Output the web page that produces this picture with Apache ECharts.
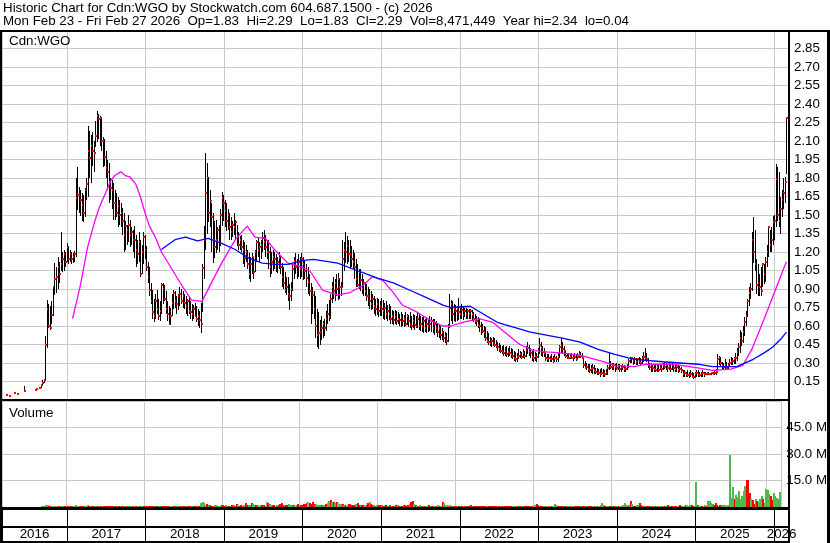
<!DOCTYPE html>
<html><head><meta charset="utf-8">
<script src="https://cdn.jsdelivr.net/npm/echarts@6/dist/echarts.min.js"></script>
<style>html,body{margin:0;padding:0;background:#fff}#c{width:830px;height:543px}</style>
</head><body><div id="c"></div>
<script>
// Weekly bars, first week ending Fri 2016-03-25, last week ending Fri 2026-02-27
const firstWeek = [2016, 2, 25];
const high = [
0.04,null,0.04,null,null,0.06,null,0.05,null,null,
null,null,0.11,null,null,null,null,null,null,0.08,
0.09,null,0.10,0.13,0.16,0.17,0.52,0.81,0.78,0.76,
0.80,0.92,1.11,1.08,1.16,1.12,1.36,1.20,1.22,1.20,
1.27,1.25,1.22,1.20,1.19,1.21,1.80,1.89,1.73,1.70,
1.68,1.66,1.72,1.80,2.22,2.18,2.15,2.17,2.10,2.26,
2.34,2.32,2.30,2.28,2.13,2.12,2.02,1.95,1.92,1.80,
1.78,1.76,1.70,1.68,1.65,1.62,1.60,1.56,1.52,1.45,
1.42,1.50,1.46,1.40,1.38,1.41,1.34,1.30,1.36,1.30,
1.26,1.36,1.34,1.25,1.12,1.08,0.95,0.89,0.82,0.86,
0.89,0.82,0.80,0.95,0.95,0.93,0.88,0.80,0.76,0.75,
0.86,0.89,0.88,0.84,0.86,0.92,0.90,0.88,0.86,0.84,
0.82,0.84,0.80,0.78,0.77,0.79,0.76,0.74,0.72,0.79,
1.10,1.41,2.00,1.92,1.81,1.70,1.60,1.52,1.45,1.46,
1.40,1.42,1.55,1.69,1.66,1.62,1.60,1.55,1.52,1.48,
1.45,1.52,1.46,1.42,1.36,1.33,1.34,1.30,1.28,1.26,
1.22,1.19,1.16,1.19,1.15,1.22,1.30,1.32,1.28,1.30,
1.36,1.38,1.34,1.30,1.30,1.24,1.20,1.22,1.20,1.18,
1.16,1.20,1.17,1.11,1.08,1.04,1.00,1.00,0.94,0.96,
1.10,1.16,1.19,1.14,1.18,1.16,1.19,1.16,1.13,1.10,
1.08,1.02,0.95,0.92,0.88,0.84,0.74,0.71,0.65,0.68,
0.64,0.66,0.72,0.78,0.81,0.86,0.96,1.00,0.98,1.02,
1.03,0.98,0.96,1.30,1.28,1.36,1.33,1.30,1.30,1.25,
1.22,1.19,1.14,1.10,1.06,1.06,1.02,0.98,0.96,0.94,
0.92,0.90,0.88,0.86,0.84,0.82,0.83,0.82,0.80,0.83,
0.81,0.79,0.80,0.77,0.78,0.76,0.73,0.72,0.73,0.72,
0.71,0.70,0.71,0.70,0.69,0.71,0.70,0.69,0.71,0.68,
0.70,0.69,0.68,0.71,0.70,0.68,0.67,0.68,0.66,0.67,
0.65,0.68,0.67,0.66,0.66,0.64,0.62,0.61,0.60,0.58,
0.56,0.55,0.54,0.62,0.86,0.81,0.80,0.78,0.77,0.76,
0.83,0.76,0.78,0.76,0.75,0.75,0.74,0.74,0.74,0.73,
0.71,0.70,0.68,0.67,0.66,0.63,0.62,0.60,0.59,0.56,
0.54,0.51,0.50,0.51,0.50,0.49,0.47,0.46,0.45,0.44,
0.45,0.43,0.44,0.42,0.44,0.42,0.41,0.40,0.39,0.38,
0.41,0.40,0.39,0.41,0.40,0.44,0.47,0.45,0.42,0.40,
0.41,0.39,0.38,0.42,0.50,0.47,0.44,0.42,0.38,0.37,
0.37,0.36,0.37,0.36,0.37,0.36,0.38,0.45,0.50,0.47,
0.44,0.40,0.38,0.38,0.37,0.38,0.37,0.38,0.37,0.38,
0.40,0.39,0.38,0.33,0.32,0.30,0.29,0.29,0.28,0.29,
0.28,0.26,0.26,0.25,0.25,0.26,0.25,0.24,0.25,0.28,
0.38,0.32,0.30,0.30,0.29,0.30,0.29,0.29,0.28,0.29,
0.28,0.27,0.29,0.33,0.35,0.35,0.34,0.35,0.34,0.34,
0.35,0.34,0.36,0.39,0.42,0.38,0.34,0.30,0.30,0.29,
0.28,0.28,0.29,0.28,0.29,0.28,0.30,0.31,0.30,0.29,
0.30,0.29,0.30,0.29,0.28,0.29,0.28,0.28,0.27,0.24,
0.24,0.23,0.24,0.23,0.24,0.23,0.22,0.23,0.24,0.24,
0.23,0.23,0.24,0.23,0.23,0.23,0.23,0.22,0.23,0.23,
0.24,0.25,0.37,0.36,0.35,0.31,0.30,0.33,0.31,0.30,
0.33,0.35,0.34,0.35,0.38,0.42,0.46,0.57,0.55,0.60,
0.67,0.72,0.82,0.92,0.95,1.36,1.48,1.38,1.14,1.10,
1.02,1.08,1.11,1.10,1.16,1.26,1.41,1.38,1.40,1.49,
1.50,1.91,1.89,1.85,1.65,1.70,1.80,1.81,2.29];
const low = [
0.03,null,0.03,null,null,0.05,null,0.04,null,null,
null,null,0.07,null,null,null,null,null,null,0.08,
0.08,null,0.09,0.10,0.12,0.14,0.16,0.42,0.58,0.57,
0.62,0.68,0.85,0.87,0.90,0.95,1.05,1.04,1.05,1.08,
1.12,1.10,1.12,1.10,1.11,1.12,1.16,1.54,1.52,1.49,
1.45,1.44,1.48,1.62,1.65,1.80,1.76,1.90,1.85,2.05,
2.09,2.12,2.06,2.02,1.89,1.90,1.80,1.70,1.60,1.62,
1.55,1.46,1.46,1.48,1.40,1.42,1.40,1.34,1.20,1.22,
1.26,1.28,1.24,1.26,1.20,1.15,1.08,1.10,1.12,1.00,
1.02,1.10,1.14,1.05,0.95,0.84,0.78,0.66,0.63,0.66,
0.70,0.65,0.64,0.70,0.78,0.80,0.70,0.64,0.61,0.61,
0.68,0.74,0.75,0.70,0.73,0.76,0.78,0.75,0.74,0.70,
0.68,0.70,0.66,0.64,0.66,0.67,0.63,0.60,0.58,0.54,
0.71,0.98,1.22,1.35,1.44,1.40,1.20,1.11,1.15,1.19,
1.22,1.20,1.25,1.41,1.45,1.40,1.37,1.38,1.30,1.30,
1.32,1.34,1.30,1.25,1.22,1.22,1.20,1.10,1.08,1.12,
1.06,0.98,0.96,1.02,0.98,1.04,1.12,1.16,1.12,1.14,
1.20,1.22,1.16,1.14,1.06,1.00,1.02,1.05,1.06,1.04,
1.03,1.06,1.02,0.92,0.90,0.87,0.85,0.80,0.73,0.80,
0.88,0.98,1.02,0.98,1.00,0.98,1.00,0.97,0.98,0.92,
0.86,0.84,0.62,0.70,0.66,0.50,0.43,0.41,0.45,0.49,
0.50,0.52,0.56,0.62,0.64,0.66,0.79,0.82,0.80,0.84,
0.81,0.82,0.84,0.92,1.05,1.11,1.10,1.12,1.06,1.08,
1.06,0.98,0.92,0.92,0.90,0.88,0.86,0.84,0.84,0.80,
0.76,0.74,0.73,0.74,0.70,0.68,0.69,0.67,0.68,0.68,
0.66,0.65,0.66,0.64,0.65,0.62,0.62,0.61,0.62,0.61,
0.62,0.60,0.59,0.60,0.59,0.60,0.61,0.59,0.58,0.57,
0.58,0.57,0.58,0.58,0.57,0.56,0.55,0.54,0.55,0.54,
0.55,0.56,0.55,0.54,0.53,0.54,0.51,0.50,0.49,0.49,
0.47,0.46,0.45,0.47,0.58,0.64,0.62,0.64,0.63,0.64,
0.65,0.66,0.66,0.65,0.67,0.66,0.66,0.66,0.66,0.64,
0.63,0.62,0.60,0.58,0.55,0.53,0.54,0.50,0.48,0.46,
0.45,0.44,0.43,0.44,0.43,0.42,0.40,0.39,0.38,0.37,
0.36,0.36,0.35,0.35,0.36,0.34,0.33,0.32,0.31,0.31,
0.33,0.34,0.33,0.34,0.33,0.35,0.37,0.36,0.34,0.32,
0.31,0.32,0.31,0.34,0.37,0.36,0.35,0.35,0.32,0.31,
0.31,0.31,0.31,0.30,0.31,0.31,0.31,0.34,0.38,0.37,
0.36,0.34,0.33,0.33,0.33,0.33,0.32,0.33,0.32,0.33,
0.34,0.34,0.33,0.26,0.25,0.24,0.23,0.22,0.22,0.21,
0.21,0.21,0.20,0.20,0.19,0.20,0.19,0.19,0.20,0.20,
0.24,0.25,0.24,0.24,0.23,0.24,0.24,0.23,0.23,0.24,
0.23,0.23,0.24,0.26,0.30,0.30,0.28,0.29,0.28,0.28,
0.29,0.28,0.29,0.31,0.32,0.31,0.26,0.24,0.23,0.23,
0.23,0.23,0.23,0.23,0.24,0.23,0.24,0.25,0.24,0.23,
0.24,0.23,0.24,0.23,0.23,0.23,0.22,0.23,0.22,0.19,
0.19,0.19,0.19,0.18,0.19,0.18,0.17,0.18,0.19,0.19,
0.19,0.19,0.19,0.19,0.20,0.20,0.20,0.20,0.20,0.20,
0.20,0.20,0.24,0.28,0.27,0.25,0.25,0.25,0.24,0.25,
0.27,0.28,0.28,0.29,0.29,0.32,0.36,0.38,0.44,0.46,
0.52,0.60,0.67,0.76,0.82,0.88,1.11,1.05,0.86,0.84,
0.84,0.84,0.92,0.94,0.96,1.08,1.16,1.20,1.20,1.26,
1.30,1.40,1.45,1.40,1.35,1.48,1.55,1.60,1.83];
const close = [
0.04,null,0.03,null,null,0.06,null,0.05,null,null,
null,null,0.07,null,null,null,null,null,null,0.08,
0.09,null,0.10,0.12,0.14,0.16,0.45,0.74,0.60,0.58,
0.69,0.92,0.98,1.00,1.08,1.02,1.10,1.14,1.18,1.12,
1.24,1.14,1.18,1.14,1.16,1.18,1.64,1.66,1.66,1.62,
1.58,1.52,1.70,1.75,2.02,1.96,2.06,2.02,2.00,2.14,
2.30,2.28,2.29,2.10,2.10,1.97,1.88,1.85,1.77,1.72,
1.70,1.60,1.60,1.52,1.57,1.50,1.52,1.45,1.34,1.41,
1.38,1.42,1.34,1.36,1.30,1.30,1.22,1.18,1.28,1.02,
1.20,1.32,1.22,1.08,1.00,0.89,0.80,0.71,0.68,0.80,
0.74,0.68,0.72,0.93,0.90,0.82,0.74,0.70,0.62,0.68,
0.79,0.87,0.80,0.78,0.84,0.86,0.80,0.84,0.79,0.76,
0.80,0.72,0.71,0.70,0.74,0.68,0.66,0.68,0.65,0.62,
1.07,1.30,1.68,1.80,1.52,1.61,1.48,1.30,1.24,1.30,
1.38,1.28,1.50,1.64,1.60,1.53,1.45,1.50,1.40,1.36,
1.42,1.40,1.44,1.33,1.26,1.30,1.24,1.22,1.15,1.20,
1.10,1.02,1.10,1.16,1.04,1.20,1.28,1.22,1.24,1.26,
1.31,1.28,1.24,1.20,1.20,1.08,1.12,1.16,1.14,1.10,
1.12,1.15,1.08,1.00,0.95,0.89,0.92,0.86,0.84,0.90,
1.06,1.13,1.08,1.10,1.12,1.06,1.14,1.10,1.05,0.99,
0.96,0.88,0.88,0.85,0.74,0.60,0.53,0.54,0.55,0.58,
0.62,0.58,0.66,0.70,0.67,0.82,0.92,0.88,0.95,0.90,
0.98,0.92,0.92,1.14,1.22,1.20,1.25,1.18,1.18,1.14,
1.12,1.08,0.98,0.93,1.04,0.97,0.90,0.95,0.88,0.84,
0.84,0.80,0.78,0.82,0.76,0.74,0.78,0.72,0.76,0.74,
0.72,0.75,0.70,0.72,0.70,0.66,0.68,0.65,0.67,0.64,
0.66,0.65,0.67,0.64,0.66,0.62,0.68,0.64,0.62,0.60,
0.64,0.61,0.60,0.66,0.60,0.62,0.60,0.64,0.58,0.62,
0.60,0.62,0.64,0.58,0.62,0.58,0.55,0.58,0.53,0.55,
0.50,0.52,0.48,0.60,0.75,0.78,0.70,0.74,0.72,0.74,
0.71,0.70,0.73,0.69,0.72,0.70,0.72,0.70,0.72,0.70,
0.66,0.64,0.64,0.61,0.60,0.58,0.56,0.55,0.50,0.48,
0.47,0.46,0.48,0.46,0.45,0.44,0.43,0.41,0.40,0.40,
0.38,0.40,0.37,0.39,0.38,0.37,0.36,0.34,0.33,0.35,
0.36,0.37,0.35,0.38,0.36,0.40,0.42,0.40,0.38,0.35,
0.34,0.36,0.35,0.40,0.45,0.42,0.39,0.38,0.34,0.33,
0.34,0.33,0.33,0.32,0.34,0.33,0.35,0.43,0.44,0.41,
0.40,0.36,0.35,0.34,0.35,0.34,0.34,0.35,0.33,0.35,
0.37,0.36,0.34,0.28,0.26,0.27,0.25,0.24,0.25,0.26,
0.24,0.23,0.22,0.22,0.21,0.22,0.21,0.21,0.22,0.26,
0.29,0.27,0.27,0.28,0.27,0.26,0.27,0.25,0.26,0.27,
0.25,0.25,0.28,0.32,0.33,0.34,0.32,0.33,0.31,0.33,
0.32,0.30,0.34,0.35,0.34,0.33,0.28,0.27,0.28,0.26,
0.25,0.24,0.27,0.24,0.26,0.25,0.28,0.27,0.28,0.26,
0.27,0.25,0.28,0.26,0.25,0.27,0.24,0.25,0.24,0.21,
0.22,0.21,0.20,0.20,0.21,0.19,0.19,0.21,0.22,0.21,
0.20,0.21,0.22,0.21,0.21,0.22,0.21,0.21,0.22,0.21,
0.22,0.23,0.33,0.34,0.30,0.28,0.27,0.28,0.26,0.28,
0.30,0.31,0.32,0.33,0.34,0.39,0.43,0.50,0.48,0.55,
0.63,0.68,0.80,0.87,0.90,1.30,1.20,1.10,0.93,0.95,
0.92,0.88,1.10,1.02,1.12,1.20,1.40,1.26,1.30,1.44,
1.45,1.79,1.50,1.45,1.55,1.62,1.68,1.77,2.29];
// weekly volume, millions of shares
const volumeM = [
0.1,null,0.1,null,null,0.2,null,0.1,null,null,
null,null,0.2,null,null,null,null,null,null,0.1,
0.2,null,0.2,0.4,0.5,0.4,1.2,0.9,0.6,0.5,
0.4,0.7,0.8,0.5,0.6,0.4,0.7,0.4,0.5,0.3,
0.5,0.4,0.3,0.3,0.4,0.3,1.0,0.8,0.5,0.4,
0.4,0.3,0.5,0.4,0.9,0.7,0.5,0.4,0.4,0.6,
0.8,0.5,0.5,0.4,0.4,0.3,0.5,0.4,0.3,0.4,
0.3,0.4,0.3,0.3,0.4,0.3,0.5,0.4,0.3,0.4,
0.3,0.3,0.5,0.4,0.3,0.4,0.3,0.3,0.4,0.3,
0.5,0.4,0.3,0.4,0.5,0.6,0.5,0.4,0.5,0.4,
0.3,0.4,0.5,0.6,0.4,0.3,0.4,0.5,0.4,0.3,
0.4,0.3,0.4,0.3,0.3,0.4,0.3,0.4,0.3,0.3,
0.4,0.3,0.3,0.4,0.3,0.3,0.4,0.5,0.3,0.4,
2.2,2.8,2.0,1.2,1.6,0.9,1.0,0.8,0.7,0.9,
1.2,0.8,0.7,0.6,0.9,1.0,0.8,0.9,0.7,0.8,
0.6,1.2,0.9,0.8,1.5,1.0,0.8,0.9,0.7,1.2,
2.0,1.4,1.0,0.9,2.5,1.8,1.2,1.0,0.9,0.8,
1.1,1.3,0.9,0.8,3.0,2.2,1.5,1.0,0.9,1.2,
0.8,0.9,1.1,1.6,2.0,1.2,1.0,0.9,1.4,1.8,
1.1,0.9,1.0,0.8,1.2,1.6,1.0,1.2,1.0,1.5,
1.8,2.2,3.0,2.4,1.6,2.8,1.8,1.5,1.2,1.0,
1.4,1.1,0.9,1.2,1.6,2.4,3.6,4.2,3.0,2.6,
2.0,3.0,2.2,1.8,1.5,1.6,1.2,1.0,1.3,1.8,
1.5,1.0,0.9,1.2,1.6,2.2,1.4,1.0,1.2,0.9,
1.0,1.4,2.2,2.6,1.5,1.2,1.0,0.8,1.1,1.0,
0.9,1.2,0.8,1.0,0.9,0.7,0.8,1.0,0.6,0.8,
0.7,0.9,1.2,0.8,0.7,0.6,0.9,1.0,0.8,1.4,
1.8,2.6,3.6,1.5,1.0,0.8,0.7,0.9,0.6,0.8,
0.7,0.6,0.8,0.9,0.7,0.6,0.8,0.7,0.6,0.9,
0.8,0.7,3.0,2.0,1.4,1.0,0.8,0.9,0.7,0.6,
0.8,0.7,0.6,0.8,0.5,0.6,0.5,0.4,0.6,0.5,
0.7,0.9,0.6,0.5,0.4,0.6,0.5,0.4,0.5,0.6,
0.4,0.5,0.3,0.4,0.5,0.4,0.3,0.4,0.5,0.4,
0.3,0.4,0.6,0.5,0.4,0.3,0.5,0.4,0.3,0.4,
0.5,0.4,0.3,0.4,0.5,0.4,0.6,0.8,0.5,0.4,
0.3,0.4,0.5,0.6,1.2,1.6,0.9,0.6,0.5,0.4,
0.6,0.5,0.4,0.5,0.6,0.4,0.8,1.6,1.2,0.8,
0.6,0.5,0.4,0.5,0.4,0.3,0.4,0.5,0.4,0.6,
0.5,0.4,0.8,0.6,0.5,0.4,0.6,0.5,0.4,0.5,
0.3,0.4,0.5,0.4,0.3,0.4,0.5,0.4,1.0,2.0,
1.2,0.8,0.6,0.5,0.4,0.5,0.6,0.5,0.4,0.5,
0.6,0.4,0.8,1.2,2.0,1.0,0.8,1.2,3.2,1.5,
0.8,0.6,0.9,1.4,2.0,1.2,0.6,0.5,0.4,0.6,
0.5,0.4,0.5,0.6,0.4,0.5,0.8,0.6,0.5,0.7,
0.6,0.5,0.8,1.0,0.7,0.6,0.5,0.8,0.6,0.5,
0.6,1.0,0.8,0.7,0.6,1.2,1.0,0.8,0.9,1.2,
0.8,0.7,14.1,1.0,0.8,0.6,0.5,0.7,1.2,0.8,
3.4,3.4,2.2,1.5,1.2,2.4,1.0,0.8,1.0,0.9,
1.2,1.0,0.8,1.4,0.9,29.5,5.1,11.2,4.8,6.8,
5.5,8.8,4.8,6.0,8.8,12.0,15.3,15.3,7.8,4.8,
3.9,1.7,4.4,3.5,3.0,4.8,6.5,4.8,2.0,10.2,
9.5,7.3,6.5,3.9,8.2,6.0,5.0,4.5,8.47];
// moving averages: week index -> value
const pinkWeeks = [44,49,54,59,62,66,69,72,76,79,82,86,89,92,95,99,103,110,117,123,130,137,143,152,160,165,172,178,187,196,202,210,220,228,237,243,250,257,263,273,281,290,295,303,314,323,332,341,350,359,370,382,397,404,417,425,443,459,469,481,489,495,503,509,515,518];
const pinkValues = [0.66,0.92,1.24,1.46,1.57,1.68,1.77,1.82,1.85,1.82,1.81,1.75,1.65,1.52,1.41,1.32,1.20,1.06,0.92,0.81,0.80,0.97,1.11,1.30,1.41,1.32,1.31,1.22,1.11,1.08,1.04,0.89,0.85,0.87,0.93,1.00,0.97,0.87,0.77,0.71,0.65,0.60,0.60,0.63,0.66,0.63,0.54,0.45,0.40,0.39,0.38,0.36,0.31,0.28,0.27,0.29,0.29,0.26,0.24,0.25,0.28,0.41,0.65,0.84,1.03,1.12];
const blueWeeks = [103,112,119,127,134,143,152,161,170,179,187,196,204,220,235,246,257,268,279,290,295,308,326,348,370,381,393,404,417,436,459,469,485,496,503,509,514,518];
const blueValues = [1.22,1.30,1.32,1.29,1.31,1.27,1.22,1.15,1.11,1.10,1.10,1.13,1.14,1.11,1.04,0.99,0.95,0.89,0.83,0.77,0.75,0.76,0.63,0.55,0.50,0.47,0.41,0.37,0.33,0.31,0.29,0.27,0.27,0.33,0.38,0.43,0.49,0.55];
const years = ['2016','2017','2018','2019','2020','2021','2022','2023','2024','2025','2026'];
const titleLine1 = 'Historic Chart for Cdn:WGO by Stockwatch.com 604.687.1500 - (c) 2026';
const titleLine2 = 'Mon Feb 23 - Fri Feb 27 2026  Op=1.83  Hi=2.29  Lo=1.83  Cl=2.29  Vol=8,471,449  Year hi=2.34  lo=0.04';
const symbolLabel = 'Cdn:WGO';
const volumeLabel = 'Volume';

const FONT = '"Liberation Sans", Arial, sans-serif';
const FS = 13.33;
const TXT = '#000';
const GRIDC = '#c8c8c8';
function weekTime(k){ return new Date(firstWeek[0], firstWeek[1], firstWeek[2] + 7*k).getTime(); }
const axisMin = new Date(2016, 2, 5).getTime();
const axisMax = new Date(2026, 2, 11).getTime();
const YEAR = 365*86400000;

const priceData = [];
const volData = [];
let prevClose = null;
for (let k = 0; k < close.length; k++) {
  if (close[k] == null) continue;
  priceData.push([weekTime(k), high[k], low[k], close[k]]);
  const dir = prevClose == null ? 0 : (close[k] > prevClose ? 1 : (close[k] < prevClose ? -1 : 0));
  if (volumeM[k] != null) volData.push([weekTime(k), volumeM[k]*1e6, dir]);
  prevClose = close[k];
}
const pinkData = pinkWeeks.map((k,i)=>[weekTime(k), pinkValues[i]]);
const blueData = blueWeeks.map((k,i)=>[weekTime(k), blueValues[i]]);
const yearCells = years.map(y => {
  const yy = +y;
  return [Math.max(new Date(yy,0,1).getTime(), axisMin), Math.min(new Date(yy+1,0,1).getTime(), axisMax), y];
});

function xAxisFor(gi, splitColor){
  return {type:'time', gridIndex:gi, min:axisMin, max:axisMax, minInterval:YEAR, maxInterval:YEAR+86400000*2,
    axisLine:{show:false}, axisTick:{show:false}, axisLabel:{show:false},
    splitLine:{show:true, lineStyle:{color:splitColor, width:1}}};
}

const chart = echarts.init(document.getElementById('c'), null, {renderer:'canvas'});
const option = {
  animation:false,
  backgroundColor:'#fff',
  grid:[
    {left:2, top:30, width:787, height:370},
    {left:2, top:401, width:787, height:106},
    {left:2, top:510, width:787, height:32}
  ],
  xAxis:[xAxisFor(0, GRIDC), xAxisFor(1, GRIDC), xAxisFor(2, '#000')],
  yAxis:[
    {type:'value', gridIndex:0, position:'right', min:0, max:3.0, interval:0.15,
      axisLine:{show:false}, axisTick:{show:false},
      axisLabel:{margin:5, color:TXT, fontFamily:FONT, fontSize:FS,
        formatter:v => (v > 0.001 && v < 2.99) ? v.toFixed(2) : ''},
      splitLine:{show:true, lineStyle:{color:GRIDC, width:1}}},
    {type:'value', gridIndex:1, position:'right', min:0, max:60e6, interval:15e6,
      axisLine:{show:false}, axisTick:{show:false},
      axisLabel:{margin:5, color:TXT, fontFamily:FONT, fontSize:FS,
        formatter:v => (v > 1 && v < 59e6) ? (v/1e6).toFixed(1) + ' M' : ''},
      splitLine:{show:true, lineStyle:{color:GRIDC, width:1}}},
    {type:'value', gridIndex:2, min:0, max:1, show:false}
  ],
  series:[
    {type:'custom', name:'price', xAxisIndex:0, yAxisIndex:0, clip:true, data:priceData, z:3,
      renderItem:function(params, api){
        const t = api.value(0);
        const ph = api.coord([t, api.value(1)]);
        const pl = api.coord([t, api.value(2)]);
        const pc = api.coord([t, api.value(3)]);
        const x = Math.round(ph[0]);
        const top = Math.round(ph[1]);
        const bot = Math.round(pl[1]);
        return {type:'group', children:[
          {type:'rect', shape:{x:x, y:top, width:1, height:Math.max(1, bot-top)}, style:{fill:'#000'}},
          {type:'rect', shape:{x:x, y:Math.round(pc[1])-1, width:2, height:2}, style:{fill:'#ff0000'}}
        ]};
      }},
    {type:'line', name:'ma1', xAxisIndex:0, yAxisIndex:0, data:pinkData, showSymbol:false, symbol:'none',
      lineStyle:{color:'#ff00ff', width:1.3}, z:4},
    {type:'line', name:'ma2', xAxisIndex:0, yAxisIndex:0, data:blueData, showSymbol:false, symbol:'none',
      lineStyle:{color:'#0000ff', width:1.3}, z:4},
    {type:'custom', name:'volume', xAxisIndex:1, yAxisIndex:1, clip:true, data:volData, z:3,
      renderItem:function(params, api){
        const t = api.value(0);
        const p0 = api.coord([t, 0]);
        const p1 = api.coord([t, api.value(1)]);
        const d = api.value(2);
        const col = d > 0 ? '#4cbb4c' : (d < 0 ? '#ff0000' : '#a0a0a0');
        const x = Math.round(p0[0]);
        const top = Math.round(p1[1]);
        return {type:'rect', shape:{x:x, y:top, width:2, height:Math.max(1, Math.round(p0[1]) - top)}, style:{fill:col}};
      }},
    {type:'custom', name:'years', xAxisIndex:2, yAxisIndex:2, data:yearCells, z:5,
      renderItem:function(params, api){
        const a = api.coord([api.value(0), 0.25]);
        const b = api.coord([api.value(1), 0.25]);
        return {type:'text', x:(a[0]+b[0])/2, y:a[1],
          style:{text:yearCells[params.dataIndex][2], textAlign:'center', textVerticalAlign:'middle',
            font: FS + 'px ' + FONT, fill:TXT}};
      }}
  ],
  graphic:[
    {type:'text', left:3, top:2, z:100, style:{text:titleLine1, font:FS+'px '+FONT, fill:TXT}},
    {type:'text', left:3, top:15, z:100, style:{text:titleLine2, font:FS+'px '+FONT, fill:TXT}},
    {type:'text', left:9, top:35, z:100, style:{text:symbolLabel, font:FS+'px '+FONT, fill:TXT}},
    {type:'text', left:9, top:407, z:100, style:{text:volumeLabel, font:FS+'px '+FONT, fill:TXT}},
    {type:'rect', z:100, shape:{x:0, y:30, width:830, height:2}, style:{fill:'#000'}},
    {type:'rect', z:100, shape:{x:0, y:30, width:2, height:513}, style:{fill:'#000'}},
    {type:'rect', z:100, shape:{x:788, y:30, width:2, height:513}, style:{fill:'#000'}},
    {type:'rect', z:100, shape:{x:827, y:30, width:3, height:513}, style:{fill:'#000'}},
    {type:'rect', z:100, shape:{x:0, y:399, width:790, height:2}, style:{fill:'#000'}},
    {type:'rect', z:100, shape:{x:0, y:507, width:790, height:3}, style:{fill:'#000'}},
    {type:'rect', z:100, shape:{x:0, y:526, width:790, height:2}, style:{fill:'#000'}},
    {type:'rect', z:100, shape:{x:0, y:541, width:790, height:2}, style:{fill:'#000'}}
  ]
};
chart.setOption(option);
</script>
</body></html>
